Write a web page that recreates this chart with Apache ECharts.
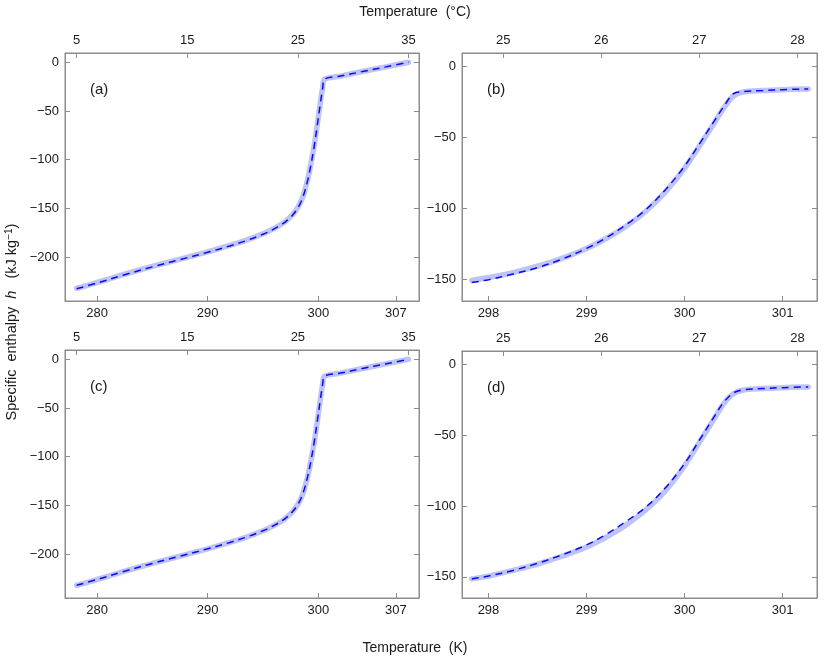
<!DOCTYPE html>
<html>
<head>
<meta charset="utf-8">
<script src="https://cdn.jsdelivr.net/npm/echarts@6/dist/echarts.min.js"></script>
<style>
  html, body { margin: 0; padding: 0; background: #fff; }
  #chart { width: 830px; height: 664px; }
</style>
</head>
<body>
<div id="chart"></div>
<script>
// Specific enthalpy vs temperature, four panels (a)-(d).
// Thick light line = reference curve, dashed line = fitted curve.

// panels (a) and (c): full range
const wideK = [278.15, 280, 282.5, 285, 287.5, 290, 292, 293.5, 295, 296, 297, 297.7, 298.2, 298.6, 299, 299.3, 299.6, 299.9, 300.2, 300.4, 300.55, 302, 304, 306, 308.15]
const wideH = [-232, -226, -217.5, -209.5, -202, -194.5, -188, -182.5, -176, -170.5, -163.5, -156, -148, -138, -122, -106, -87, -64, -40, -25, -17.5, -14.2, -9.5, -5, 0]
const wideDashA = [-232.5, -226.5, -218, -210, -202.5, -195, -188.5, -183, -176.5, -171, -164, -156.5, -148.5, -138.5, -123, -107, -88, -65, -41, -26, -17.5, -14.2, -9.5, -5, 0]
const wideDashC = [-232, -226, -217.5, -209.5, -202, -194.5, -188, -182.5, -176, -170.5, -163.5, -156, -148, -138, -122, -106, -87, -64, -40, -25, -17.5, -14.2, -9.5, -5, 0]

// panels (b) and (d): zoom on the transition
const narrowK = [297.83, 298, 298.25, 298.5, 298.75, 299, 299.2, 299.4, 299.6, 299.8, 300, 300.15, 300.3, 300.4, 300.5, 300.6, 300.8, 301, 301.26]
const narrowB = [-150.5, -148.5, -145, -140.5, -135, -128, -121, -112.5, -102, -88.5, -71.5, -56, -40, -29, -20.5, -17.8, -16.8, -16.2, -15.7]
const narrowDashB = [-152, -150, -146, -141.5, -135.5, -128, -120.5, -111.5, -101, -87, -70, -54.5, -38.5, -28, -19, -17.6, -16.8, -16.2, -15.7]
const narrowD = [-151.5, -149.5, -145.5, -141, -135.5, -129, -122, -113.5, -103, -89.5, -71.5, -55, -38.5, -27.5, -20.5, -18, -16.9, -16.3, -15.8]
const narrowDashD = [-151.5, -149.5, -145.5, -140.5, -134.5, -127.5, -120, -111, -101, -87.5, -70, -53.5, -37, -26.5, -20, -17.8, -16.9, -16.3, -15.8]

const wideKTicks = [280, 290, 300, 307]
const wideCTicks = [5, 15, 25, 35]
const wideHTicks = [-200, -150, -100, -50, 0]
const narrowKTicks = [298, 299, 300, 301]
const narrowCTicks = [25, 26, 27, 28]
const narrowHTicks = [-150, -100, -50, 0]

const panelLabels = ["(a)", "(b)", "(c)", "(d)"]

const KELVIN = 273.15
const frameColor = "#8c8c8c"
const textColor = "#1a1a1a"
const font = "Liberation Sans, Arial, sans-serif"

const panels = [
  { box: { left: 65, top: 53, width: 354, height: 248 }, k: wideK, light: wideH, dash: wideDashA,
    xr: [277.1, 309.1], yr: [-245, 9.5], kt: wideKTicks, ct: wideCTicks, ht: wideHTicks },
  { box: { left: 462, top: 53, width: 355, height: 248 }, k: narrowK, light: narrowB, dash: narrowDashB,
    xr: [297.73, 301.35], yr: [-165, 9.6], kt: narrowKTicks, ct: narrowCTicks, ht: narrowHTicks },
  { box: { left: 65, top: 350, width: 354, height: 248 }, k: wideK, light: wideH, dash: wideDashC,
    xr: [277.1, 309.1], yr: [-245, 9.5], kt: wideKTicks, ct: wideCTicks, ht: wideHTicks },
  { box: { left: 462, top: 351, width: 355, height: 247 }, k: narrowK, light: narrowD, dash: narrowDashD,
    xr: [297.73, 301.35], yr: [-165, 9.6], kt: narrowKTicks, ct: narrowCTicks, ht: narrowHTicks },
]

const zip = (xs, ys) => xs.map((x, i) => [x, ys[i]])

const tickStyle = (vals) => ({
  show: true, inside: true, length: 5,
  customValues: vals,
  lineStyle: { color: frameColor, width: 1 },
})
const labelStyle = (vals, margin) => ({
  show: true, customValues: vals, margin: margin,
  color: textColor, fontSize: 13, fontFamily: font,
  formatter: (v) => String(Math.round(v)).replace("-", "\u2212"),
})

const grid = [], xAxis = [], yAxis = [], series = []

panels.forEach((p, i) => {
  grid.push(Object.assign({ show: true, borderColor: frameColor, borderWidth: 1, backgroundColor: "#fff" }, p.box))

  const base = { type: "value", gridIndex: i, splitLine: { show: false },
    axisLine: { show: true, onZero: false, lineStyle: { color: frameColor } } }

  xAxis.push(Object.assign({}, base, {
    position: "bottom", min: p.xr[0], max: p.xr[1],
    axisTick: tickStyle(p.kt), axisLabel: labelStyle(p.kt, 6),
  }))
  xAxis.push(Object.assign({}, base, {
    position: "top", min: p.xr[0] - KELVIN, max: p.xr[1] - KELVIN,
    axisTick: tickStyle(p.ct), axisLabel: labelStyle(p.ct, 6),
  }))
  yAxis.push(Object.assign({}, base, {
    position: "left", min: p.yr[0], max: p.yr[1],
    axisTick: tickStyle(p.ht), axisLabel: labelStyle(p.ht, 6),
  }))
  yAxis.push(Object.assign({}, base, {
    position: "right", min: p.yr[0], max: p.yr[1],
    axisTick: tickStyle(p.ht), axisLabel: { show: false },
  }))

  series.push({
    type: "line", xAxisIndex: 2 * i, yAxisIndex: 2 * i,
    data: zip(p.k, p.light), showSymbol: false, smooth: 0.35,
    lineStyle: { color: "#bfc4f7", width: 5.5, cap: "round", join: "round" },
    silent: true, animation: false, z: 2,
  })
  series.push({
    type: "line", xAxisIndex: 2 * i, yAxisIndex: 2 * i,
    data: zip(p.k, p.dash), showSymbol: false, smooth: 0.35,
    lineStyle: { color: "#0a0af5", width: 1.5, type: [7, 5] },
    silent: true, animation: false, z: 3,
  })
})

const graphic = [
  { type: "text", left: "center", top: 5,
    style: { text: "Temperature  (\u00b0C)", font: "14px " + font, fill: textColor } },
  { type: "text", left: "center", top: 641,
    style: { text: "Temperature  (K)", font: "14px " + font, fill: textColor } },
  { type: "text", x: 4, y: 322, rotation: Math.PI / 2,
    style: {
      text: "{n|Specific  enthalpy  }{i|h}{n|   (kJ kg}{s|\u22121}{n|)}",
      align: "center", verticalAlign: "top",
      rich: {
        n: { font: "14.5px " + font, fill: textColor },
        i: { font: "italic 14.5px " + font, fill: textColor },
        s: { font: "10px " + font, fill: textColor, verticalAlign: "top", padding: [0, 0, 6, 0] },
      },
    } },
]
panels.forEach((p, i) => {
  graphic.push({ type: "text", x: p.box.left + 25, y: p.box.top + 29,
    style: { text: panelLabels[i], font: "15px " + font, fill: textColor } })
})

const chart = echarts.init(document.getElementById("chart"), null, { renderer: "canvas" })
chart.setOption({ animation: false, backgroundColor: "#fff", grid, xAxis, yAxis, series, graphic })
</script>
</body>
</html>
